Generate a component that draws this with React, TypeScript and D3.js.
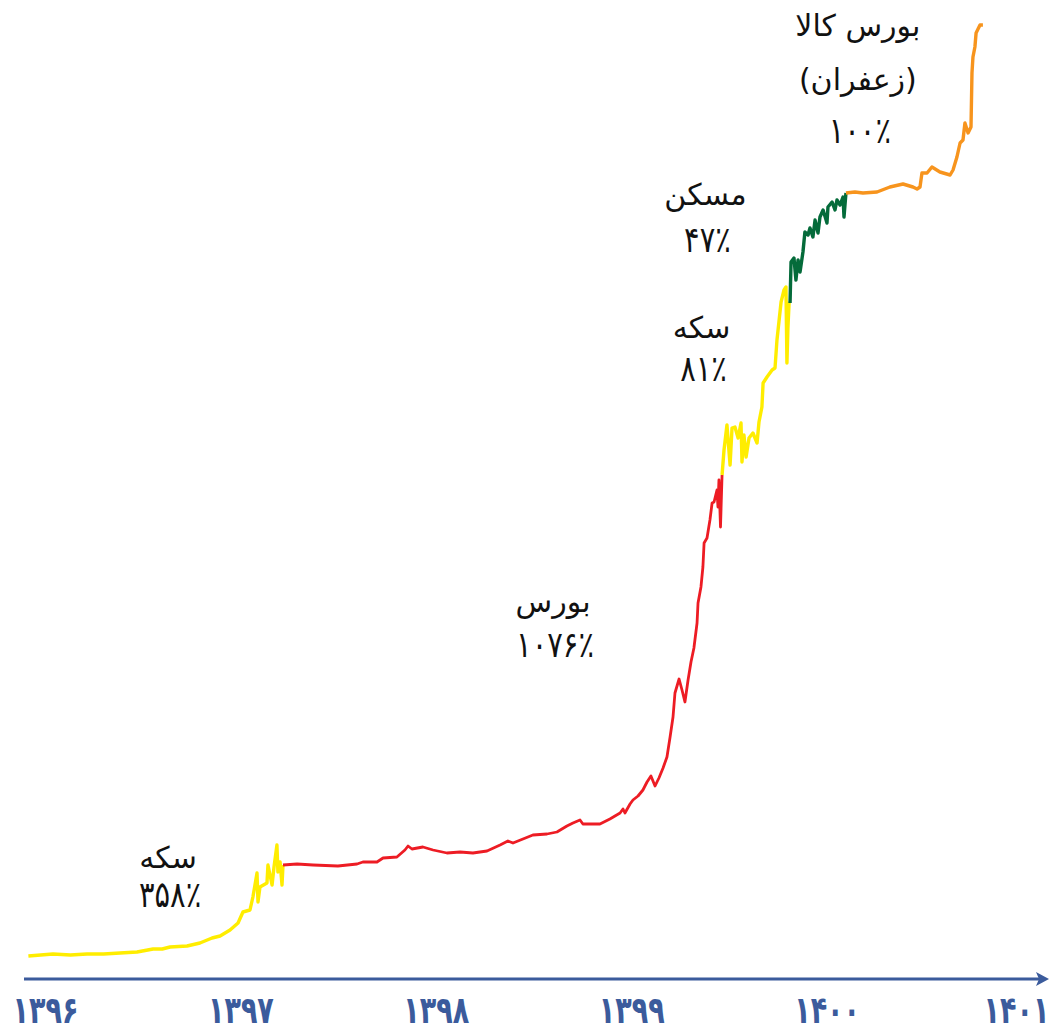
import { useEffect, useRef } from 'react';
import * as d3 from 'd3';

type Pt = [number, number];

// x: سال (کسری), y: شاخص ارزش سبد (واحد نسبی)
const years = [1396, 1397, 1398, 1399, 1400, 1401];

const coinA: Pt[] = [
  [1395.915, 4], [1396.041, 6], [1396.13, 5], [1396.215, 6], [1396.30, 6], [1396.384, 7], [1396.471, 8],
  [1396.553, 11], [1396.60, 11], [1396.640, 13], [1396.727, 14], [1396.793, 17], [1396.855, 22],
  [1396.896, 24], [1396.947, 30], [1396.988, 37], [1397.013, 48], [1397.049, 50], [1397.064, 63],
  [1397.085, 87], [1397.090, 58], [1397.100, 73], [1397.136, 77], [1397.141, 95], [1397.162, 75],
  [1397.172, 93], [1397.187, 115], [1397.192, 88], [1397.203, 98], [1397.213, 75], [1397.218, 95],
];

const bourse: Pt[] = [
  [1397.218, 95], [1397.290, 96], [1397.372, 95], [1397.499, 94], [1397.597, 96], [1397.627, 98],
  [1397.699, 98], [1397.730, 102], [1397.801, 103], [1397.842, 110], [1397.858, 114], [1397.878, 111],
  [1397.934, 113], [1397.986, 110], [1398.057, 107], [1398.124, 108], [1398.190, 107], [1398.262, 109],
  [1398.329, 115], [1398.369, 119], [1398.395, 117], [1398.497, 125], [1398.569, 126], [1398.620, 128],
  [1398.671, 134], [1398.702, 137], [1398.738, 140], [1398.753, 136], [1398.774, 136], [1398.840, 136],
  [1398.891, 141], [1398.943, 147], [1398.958, 151], [1398.968, 147], [1398.994, 156], [1399.009, 160],
  [1399.035, 164], [1399.060, 170], [1399.081, 178], [1399.101, 184], [1399.122, 174], [1399.142, 182],
  [1399.163, 192], [1399.183, 203], [1399.199, 223], [1399.214, 243], [1399.224, 267], [1399.245, 281],
  [1399.260, 270], [1399.275, 258], [1399.291, 280], [1399.306, 298], [1399.321, 312], [1399.337, 337],
  [1399.342, 357], [1399.357, 373], [1399.367, 393], [1399.373, 417], [1399.388, 422], [1399.403, 440],
  [1399.414, 457], [1399.424, 458], [1399.439, 470], [1399.444, 453], [1399.449, 480], [1399.457, 433],
  [1399.465, 485],
];

const coinB: Pt[] = [
  [1399.465, 485], [1399.475, 510], [1399.490, 535], [1399.506, 495], [1399.516, 532], [1399.531, 533],
  [1399.547, 522], [1399.562, 537], [1399.567, 498], [1399.577, 525], [1399.588, 503], [1399.603, 522],
  [1399.623, 527], [1399.644, 517], [1399.654, 538], [1399.669, 553], [1399.675, 577], [1399.695, 583],
  [1399.721, 590], [1399.736, 592], [1399.746, 620], [1399.756, 638], [1399.767, 658], [1399.782, 670],
  [1399.792, 673], [1399.797, 597], [1399.802, 632], [1399.808, 657], [1399.813, 657],
];

const housing: Pt[] = [
  [1399.813, 657], [1399.818, 698], [1399.833, 702], [1399.843, 680], [1399.854, 700], [1399.864, 688],
  [1399.879, 708], [1399.889, 728], [1399.905, 725], [1399.915, 732], [1399.930, 723], [1399.941, 740],
  [1399.956, 727], [1399.966, 743], [1399.982, 750], [1400.002, 737], [1400.007, 753], [1400.028, 758],
  [1400.043, 750], [1400.053, 760], [1400.069, 755], [1400.084, 763], [1400.089, 743], [1400.099, 767],
];

const commodity: Pt[] = [
  [1400.099, 767], [1400.145, 768], [1400.186, 767], [1400.258, 768], [1400.324, 773], [1400.391, 776],
  [1400.442, 773], [1400.463, 771], [1400.478, 773], [1400.488, 787], [1400.514, 787], [1400.539, 793],
  [1400.580, 788], [1400.632, 785], [1400.647, 790], [1400.667, 803], [1400.683, 817], [1400.698, 820],
  [1400.708, 837], [1400.724, 827], [1400.739, 833], [1400.744, 887], [1400.749, 903], [1400.759, 913],
  [1400.765, 927], [1400.785, 935], [1400.800, 935],
];

const assetNames = ['سکه', 'بورس', 'سکه', 'مسکن', 'بورس کالا'];
const assetNotes = ['', '', '', '', '(زعفران)'];
const assetReturns = [358, 1076, 81, 47, 100];

const faDigits = (s: string | number) => String(s).replace(/\d/g, d => '۰۱۲۳۴۵۶۷۸۹'[+d]);

export default function App() {
  const svgRef = useRef<SVGSVGElement | null>(null);

  useEffect(() => {
    if (!svgRef.current) return;
    const el = svgRef.current;
    d3.select(el).selectAll('*').remove();

    const W = 1049;
    const H = 1032;
    const svg = d3.select(el).attr('width', W).attr('height', H);

    const x = d3.scaleLinear().domain([1396, 1401]).range([45, 1022]);
    const y = d3.scaleLinear().domain([0, 940]).range([960, 20]);

    const palette = ['#FFED00', '#ED1C24', '#FFED00', '#046B3A', '#F7941D'];
    const series = [coinA, bourse, coinB, housing, commodity];

    const line = d3.line<Pt>()
      .x(d => x(d[0]))
      .y(d => y(d[1]));

    series.forEach((data, i) => {
      svg.append('path')
        .datum(data)
        .attr('fill', 'none')
        .attr('stroke', palette[i])
        .attr('stroke-width', i === 1 ? 2.8 : 3.4)
        .attr('stroke-linejoin', 'round')
        .attr('d', line);
    });

    // axis with arrow
    const axisColor = '#3B5B9C';
    const axisY = 979;
    svg.append('line')
      .attr('x1', 24).attr('x2', 1040)
      .attr('y1', axisY).attr('y2', axisY)
      .attr('stroke', axisColor)
      .attr('stroke-width', 3);
    svg.append('path')
      .attr('d', `M1049,${axisY} L1036,${axisY - 7} L1039,${axisY} L1036,${axisY + 7} Z`)
      .attr('fill', axisColor);

    const xAxis = d3.axisBottom(x)
      .tickValues(years)
      .tickSize(0)
      .tickPadding(0)
      .tickFormat(v => faDigits(v as number));

    const stretch = 1.4; // the reference digits are tall and narrow
    const ax = svg.append('g').attr('transform', `translate(0,${axisY})`).call(xAxis);
    ax.select('.domain').remove();
    ax.selectAll('text')
      .attr('y', 44 / stretch)
      .attr('dy', null)
      .attr('transform', `scale(1,${stretch})`)
      .style('font-family', 'DejaVu Sans, sans-serif')
      .style('font-size', '27px')
      .style('font-weight', '700')
      .style('fill', axisColor);
    ax.selectAll<SVGGElement, number>('.tick')
      .filter(d => d === years[years.length - 1])
      .select('text')
      .attr('x', -6);

    // annotations: [x year, y value of name baseline, line gap]
    const layout: [number, number, number][] = [
      [1396.63, 92, 38],
      [1398.60, 348, 44],
      [1399.36, 622, 42],
      [1399.38, 755, 46],
      [1400.16, 924, 52],
    ];

    const tf = (s: any) => s
      .style('font-family', 'DejaVu Sans, sans-serif')
      .style('font-size', '30px')
      .style('font-weight', '500')
      .style('fill', '#111')
      .attr('text-anchor', 'middle')
      .attr('direction', 'rtl');

    const pStretch = 1.25;
    assetNames.forEach((name, i) => {
      const [lx, ly, gap] = layout[i];
      const cx = x(lx);
      let by = y(ly);
      tf(svg.append('text')).attr('x', cx).attr('y', by).text(name);
      if (assetNotes[i]) {
        by += gap + 2;
        tf(svg.append('text')).attr('x', cx).attr('y', by).text(assetNotes[i]);
      }
      by += gap + 1;
      tf(svg.append('text'))
        .attr('transform', `scale(1,${pStretch})`)
        .attr('x', cx + 2)
        .attr('y', by / pStretch)
        .style('font-size', '29px')
        .text(faDigits(assetReturns[i]) + '٪');
    });
  }, []);

  return (
    <div style={{ position: 'absolute', left: 0, top: 0, background: '#fff' }}>
      <svg ref={svgRef} style={{ display: 'block' }} />
    </div>
  );
}
